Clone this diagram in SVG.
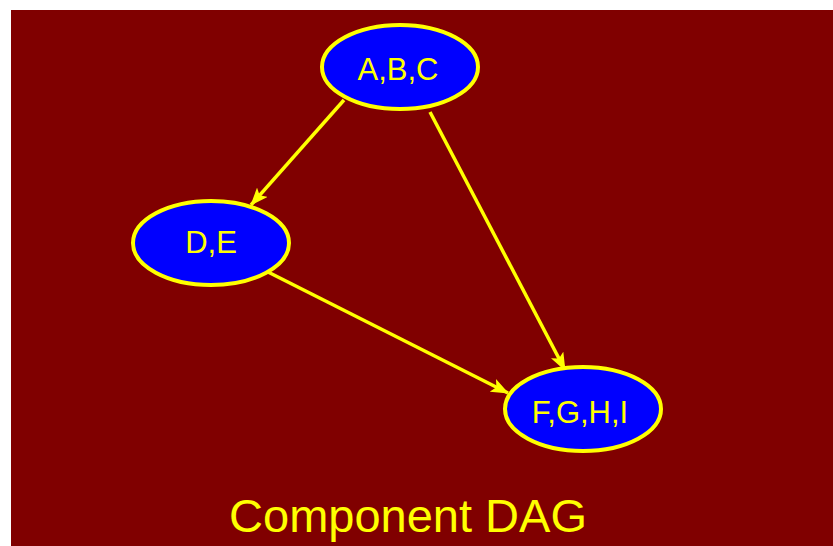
<svg xmlns="http://www.w3.org/2000/svg" width="833" height="546" viewBox="0 0 833 546">
<style>
.node ellipse{fill:#0000ff;stroke:#ffff00;stroke-width:4}
.node text{fill:#ffff00;font-family:"Liberation Sans",Arial,sans-serif;font-size:31px;text-anchor:middle}
.edge{stroke:#ffff00;stroke-width:3.5;fill:none;marker-end:url(#arr)}
.title{fill:#ffff00;font-family:"Liberation Sans",Arial,sans-serif;font-size:47px;text-anchor:middle}
</style>
<defs>
<marker id="arr" viewBox="0 0 18 14" refX="17" refY="7" markerWidth="18" markerHeight="14" markerUnits="userSpaceOnUse" orient="auto">
<path d="M0,0 L18,7 L0,14 L4,7 Z" fill="#ffff00"/>
</marker>
</defs>
<rect x="11" y="10" width="822" height="536" fill="#800000"/>
<g id="connectors">
<line class="edge" x1="344" y1="100" x2="251" y2="205"/>
<line class="edge" x1="430" y1="112" x2="565" y2="370"/>
<line class="edge" x1="268" y1="272" x2="508" y2="393"/>
</g>
<g id="node-abc" class="node">
<ellipse cx="400" cy="67" rx="78" ry="42"/>
<text x="398" y="80">A,B,C</text>
</g>
<g id="node-de" class="node">
<ellipse cx="211" cy="243" rx="78" ry="42"/>
<text x="211" y="253">D,E</text>
</g>
<g id="node-fghi" class="node">
<ellipse cx="583" cy="409" rx="78" ry="42"/>
<text x="580" y="423">F,G,H,I</text>
</g>
<text class="title" x="408" y="532">Component DAG</text>
</svg>
